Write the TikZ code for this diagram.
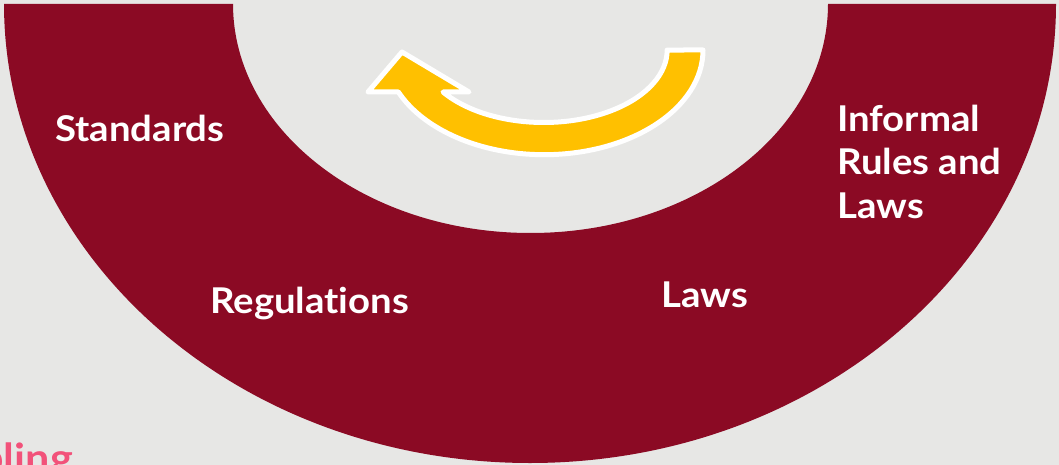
\documentclass[tikz,border=0pt]{standalone}
\usepackage{fontspec}
\setmainfont{Lato}[FakeStretch=1.08, Ligatures=CommonOff]
\definecolor{bgc}{HTML}{E7E7E5}
\definecolor{wine}{HTML}{8B0A24}
\definecolor{gold}{HTML}{FFC000}
\definecolor{pinkc}{HTML}{F2527A}
\tikzset{
  lbl/.style={anchor=base west, inner sep=0pt, text=white, font=\fontsize{35.5}{43}\selectfont\bfseries},
}
\begin{document}
\begin{tikzpicture}[x=1pt,y=1pt]
\useasboundingbox (0,0) rectangle (1059,-465);
\clip (0,0) rectangle (1059,-465);
\fill[bgc] (0,0) rectangle (1059,-465);
% half annulus
\fill[wine] (4,-4) arc[start angle=180, end angle=360, x radius=526, y radius=459]
  -- (828,-4) arc[start angle=0, end angle=-180, x radius=297.5, y radius=229] -- cycle;
% curved arrow
\filldraw[fill=gold, draw=white, line width=5pt, line join=round]
  (703,-50) arc[start angle=0, end angle=-156.35, x radius=159, y radius=104.7]
  -- (368,-92) -- (402,-52) -- (469,-92) -- (443,-92)
  arc[start angle=-144.6, end angle=0, x radius=123.5, y radius=72.5] -- cycle;
% labels
\node[lbl] (std) at (55,-142) {Standards};
\node[lbl] (reg) at (210,-313) {Regulations};
\node[lbl] (laws) at (661,-307) {Laws};
\node[lbl] (inf1) at (837,-132) {Informal};
\node[lbl] (inf2) at (837,-175) {Rules and};
\node[lbl] (inf3) at (837,-218) {Laws};
\node[anchor=base east, inner sep=0pt, text=pinkc, font=\fontsize{40}{48}\selectfont\bfseries] (cpl) at (73,-472) {pling};
\end{tikzpicture}
\end{document}
